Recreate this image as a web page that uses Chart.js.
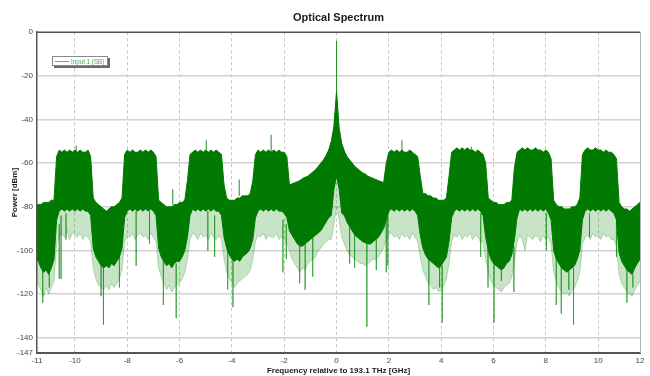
<!DOCTYPE html>
<html>
<head>
<meta charset="utf-8">
<title>Optical Spectrum</title>
<script src="https://cdn.jsdelivr.net/npm/chart.js@4.4.1/dist/chart.umd.min.js"></script>
<style>
  html, body { margin: 0; padding: 0; background: #fff; }
  #wrap { width: 650px; height: 376px; }
</style>
</head>
<body>
<div id="wrap"><canvas id="spectrumChart" width="650" height="376"></canvas></div>
<script>
const seriesName = 'Input 1 (SB)';

// frequency relative to 193.1 THz [GHz]
const freq = [
  -11.45,
  -11.4, -11.3, -11.2, -11.1, -11.0, -10.9, -10.8, -10.7, -10.6, -10.5,
  -10.4, -10.3, -10.2, -10.1, -10.0, -9.9, -9.8, -9.7, -9.6, -9.5,
  -9.4, -9.3, -9.2, -9.1, -9.0, -8.9, -8.8, -8.7, -8.6, -8.5,
  -8.4, -8.3, -8.2, -8.1, -8.0, -7.9, -7.8, -7.7, -7.6, -7.5,
  -7.4, -7.3, -7.2, -7.1, -7.0, -6.9, -6.8, -6.7, -6.6, -6.5,
  -6.4, -6.3, -6.2, -6.1, -6.0, -5.9, -5.8, -5.7, -5.6, -5.5,
  -5.4, -5.3, -5.2, -5.1, -5.0, -4.9, -4.8, -4.7, -4.6, -4.5,
  -4.4, -4.3, -4.2, -4.1, -4.0, -3.9, -3.8, -3.7, -3.6, -3.5,
  -3.4, -3.3, -3.2, -3.1, -3.0, -2.9, -2.8, -2.7, -2.6, -2.5,
  -2.4, -2.3, -2.2, -2.1, -2.0, -1.9, -1.8, -1.7, -1.6, -1.5,
  -1.4, -1.3, -1.2, -1.1, -1.0, -0.9, -0.8, -0.7, -0.6, -0.5,
  -0.4, -0.3, -0.2, -0.1, 0.0, 0.1, 0.2, 0.3, 0.4, 0.5,
  0.6, 0.7, 0.8, 0.9, 1.0, 1.1, 1.2, 1.3, 1.4, 1.5,
  1.6, 1.7, 1.8, 1.9, 2.0, 2.1, 2.2, 2.3, 2.4, 2.5,
  2.6, 2.7, 2.8, 2.9, 3.0, 3.1, 3.2, 3.3, 3.4, 3.5,
  3.6, 3.7, 3.8, 3.9, 4.0, 4.1, 4.2, 4.3, 4.4, 4.5,
  4.6, 4.7, 4.8, 4.9, 5.0, 5.1, 5.2, 5.3, 5.4, 5.5,
  5.6, 5.7, 5.8, 5.9, 6.0, 6.1, 6.2, 6.3, 6.4, 6.5,
  6.6, 6.7, 6.8, 6.9, 7.0, 7.1, 7.2, 7.3, 7.4, 7.5,
  7.6, 7.7, 7.8, 7.9, 8.0, 8.1, 8.2, 8.3, 8.4, 8.5,
  8.6, 8.7, 8.8, 8.9, 9.0, 9.1, 9.2, 9.3, 9.4, 9.5,
  9.6, 9.7, 9.8, 9.9, 10.0, 10.1, 10.2, 10.3, 10.4, 10.5,
  10.6, 10.7, 10.8, 10.9, 11.0, 11.1, 11.2, 11.3, 11.4, 11.5,
  11.6
];

// top of the trace [dBm]
const upper = [
  -79,
  -79, -79, -78, -78, -78, -77, -77, -57, -54, -55,
  -54, -55, -54, -55, -54, -55, -54, -55, -55, -54,
  -57, -76, -78, -79, -80, -81, -82, -81, -80, -80,
  -79, -78, -76, -56, -54, -55, -54, -55, -55, -54,
  -55, -54, -55, -54, -55, -57, -77, -78, -79, -80,
  -80, -80, -79, -79, -78, -78, -77, -68, -56, -55,
  -54, -55, -54, -55, -54, -55, -54, -55, -54, -55,
  -56, -70, -76, -77, -77, -77, -76, -76, -75, -75,
  -75, -74, -68, -56, -54, -55, -54, -55, -54, -55,
  -54, -55, -54, -55, -55, -57, -70, -69.5, -69, -68.5,
  -68, -67, -66.5, -66, -65, -64, -63, -61.5, -60, -58.5,
  -56.5, -54, -50, -43, -27, -44, -51, -54.5, -57, -58.5,
  -60, -61.5, -62.5, -63.5, -64.5, -65, -66, -66.5, -67, -67.5,
  -68, -68.5, -69, -60, -55, -54, -55, -54, -55, -54,
  -55, -55, -54, -55, -56, -57, -66, -74, -74, -75,
  -75, -76, -76, -77, -77, -77, -76, -66, -55, -54,
  -53, -54, -53, -54, -53, -54, -54, -55, -54, -55,
  -56, -60, -76, -77, -78, -78, -79, -79, -79, -78,
  -78, -77, -62, -55, -54, -53, -54, -53, -54, -54,
  -53, -54, -54, -55, -54, -55, -58, -77, -79, -80,
  -80, -81, -81, -81, -80, -80, -79, -76, -56, -54,
  -53, -54, -54, -53, -54, -54, -55, -54, -55, -55,
  -56, -58, -78, -80, -81, -81, -82, -81, -80, -79,
  -78
];

// lower edge of the dense part of the trace [dBm]
const core = [
  -104,
  -105, -108, -110, -109, -111, -108, -104, -86, -82, -81,
  -82, -81, -82, -81, -82, -81, -82, -81, -82, -82,
  -84, -99, -103, -105, -107, -108, -107, -108, -106, -107,
  -105, -103, -99, -85, -82, -81, -82, -81, -82, -81,
  -82, -81, -82, -81, -82, -84, -99, -103, -105, -107,
  -106, -108, -106, -105, -105, -103, -100, -94, -84, -81,
  -82, -81, -82, -81, -82, -81, -82, -81, -82, -82,
  -84, -94, -99, -102, -104, -105, -104, -105, -103, -102,
  -101, -99, -95, -85, -82, -81, -82, -81, -82, -81,
  -82, -81, -82, -82, -83, -85, -91, -93, -95, -97,
  -98, -98, -97, -96, -95, -94, -93, -92, -91, -89,
  -87, -85, -84, -72, -66, -72, -83, -84, -87, -89,
  -91, -93, -94, -95, -96, -96.5, -97, -97, -96, -95,
  -94, -92, -90, -86, -82, -81, -82, -81, -82, -81,
  -82, -81, -82, -81, -82, -84, -93, -99, -102, -104,
  -105, -106, -107, -108, -107, -105, -103, -96, -85, -82,
  -81, -82, -81, -82, -81, -82, -81, -82, -81, -82,
  -84, -94, -100, -104, -106, -107, -108, -109, -108, -106,
  -105, -102, -95, -85, -81, -82, -81, -82, -81, -82,
  -81, -82, -81, -82, -81, -83, -86, -100, -104, -106,
  -108, -109, -110, -109, -108, -107, -104, -100, -86, -82,
  -81, -82, -81, -82, -81, -82, -81, -82, -81, -82,
  -83, -86, -101, -105, -107, -109, -110, -111, -108, -106,
  -104
];

// lowest level of the sparse noise below the dense part [dBm]
const floor = [
  -115,
  -116, -118, -121, -117, -120, -117, -114, -97, -94, -92,
  -94, -91, -95, -92, -93, -94, -92, -95, -93, -94,
  -96, -108, -113, -116, -117, -118, -116, -118, -115, -117,
  -115, -113, -109, -96, -93, -94, -92, -95, -93, -92,
  -94, -93, -95, -92, -94, -96, -108, -112, -115, -118,
  -116, -119, -117, -116, -115, -113, -110, -104, -95, -92,
  -93, -95, -92, -94, -93, -95, -92, -94, -95, -93,
  -95, -104, -110, -113, -115, -117, -115, -114, -113, -112,
  -111, -109, -104, -96, -93, -94, -92, -95, -93, -94,
  -94, -92, -95, -94, -95, -97, -100, -104, -106, -108,
  -110, -108, -109, -106, -105, -104, -103, -100, -99, -97,
  -96, -95, -95, -88, -80, -86, -94, -97, -100, -102,
  -103, -104, -105, -106, -106, -107, -106, -105, -104, -104,
  -103, -101, -99, -95, -93, -92, -94, -93, -95, -92,
  -94, -93, -95, -92, -94, -96, -103, -109, -112, -115,
  -116, -118, -117, -119, -118, -116, -113, -106, -96, -93,
  -94, -92, -95, -93, -94, -92, -95, -93, -94, -96,
  -96, -104, -110, -114, -116, -117, -118, -119, -117, -116,
  -115, -112, -105, -96, -93, -95, -100, -93, -94, -95,
  -93, -94, -96, -93, -95, -94, -97, -110, -114, -117,
  -119, -120, -119, -121, -118, -117, -114, -110, -97, -94,
  -93, -95, -92, -94, -93, -95, -92, -94, -93, -95,
  -95, -98, -111, -115, -117, -119, -120, -121, -118, -116,
  -114
];

// isolated deep dips below the trace
const dipFreq = [-11.23, -10.98, -10.6, -10.53, -10.34, -9.0, -8.91, -8.3, -7.66, -7.15,
  -6.62, -6.13, -4.92, -4.66, -4.16, -3.96, -2.05, -1.92, -1.41, -1.2,
  -0.91, 0.5, 0.69, 1.16, 1.52, 1.9, 1.96, 3.53, 3.94, 4.04,
  5.51, 5.79, 6.02, 6.3, 6.78, 8.02, 8.4, 8.59, 8.88, 9.06,
  9.67, 10.7, 11.1, 11.33];
const dipTop = [-106, -108, -88, -84, -83, -106, -107, -100, -82, -82,
  -102, -106, -82, -84, -98, -104, -86, -88, -98, -97,
  -94, -89, -92, -96, -95, -86, -84, -101, -107, -107,
  -83, -94, -104, -108, -98, -83, -100, -107, -109, -108,
  -83, -86, -109, -111];
const dipBottom = [-124, -117, -113, -113, -95, -121, -134, -117, -107, -97,
  -125, -131, -100, -103, -118, -126, -110, -104, -115, -118,
  -112, -106, -108, -135, -109, -110, -107, -125, -117, -133,
  -103, -117, -133, -114, -119, -100, -125, -129, -118, -134,
  -94, -103, -124, -117];

// isolated peaks above the trace (carrier at 0 GHz)
const peakFreq = [-9.95, -6.26, -4.98, -3.72, -2.5, 0.0, 2.5, 5.15];
const peakBase = [-55, -79, -55, -75, -55, -27, -55, -54];
const peakTop = [-52, -72, -49.5, -67.5, -47, -4, -49.5, -52.5];

const xTicks = [-11.45, -10, -8, -6, -4, -2, 0, 2, 4, 6, 8, 10, 11.6];
const xTickLabels = ['-11', '-10', '-8', '-6', '-4', '-2', '0', '2', '4', '6', '8', '10', '12'];
const yTicks = [0, -20, -40, -60, -80, -100, -120, -140, -147];
const yTickLabels = ['0', '-20', '-40', '-60', '-80', '-100', '-120', '-140', '-147'];

const FONT = "'Liberation Sans Narrow', 'Arial Narrow', 'Liberation Sans', Arial, sans-serif";
const DARK = '#007a00';

function points(xs, ys) {
    return xs.map((x, i) => ({ x: x, y: ys[i] }));
}

// vertical strokes, separated by gaps
function sticks(xs, from, to) {
    const out = [];
    xs.forEach((x, i) => {
        out.push({ x: x, y: from[i] }, { x: x, y: to[i] }, { x: x, y: null });
    });
    return out;
}

const frame = {
    id: 'frame',
    afterDatasetsDraw(chart) {
        const { ctx, chartArea: a } = chart;
        ctx.save();
        ctx.strokeStyle = '#555';
        ctx.lineWidth = 1.5;
        ctx.beginPath();
        ctx.moveTo(a.left, a.top);
        ctx.lineTo(a.right, a.top);
        ctx.stroke();
        ctx.strokeStyle = '#b4b4b4';
        ctx.lineWidth = 1;
        ctx.beginPath();
        ctx.moveTo(a.right + 0.5, a.top);
        ctx.lineTo(a.right + 0.5, a.bottom);
        ctx.stroke();
        ctx.restore();
    }
};

const legendBox = {
    id: 'legendBox',
    afterDraw(chart) {
        const ctx = chart.ctx;
        const x = 52, y = 56, w = 56, h = 10;
        ctx.save();
        ctx.fillStyle = '#6a6a6a';
        ctx.fillRect(x + 2, y + 2, w, h);
        ctx.fillStyle = '#fff';
        ctx.fillRect(x, y, w, h);
        ctx.strokeStyle = '#8a8a8a';
        ctx.lineWidth = 1;
        ctx.strokeRect(x + 0.5, y + 0.5, w - 1, h - 1);
        ctx.strokeStyle = '#5cb85c';
        ctx.beginPath();
        ctx.moveTo(x + 3, y + 5.5);
        ctx.lineTo(x + 17, y + 5.5);
        ctx.stroke();
        ctx.fillStyle = '#4fa84f';
        ctx.font = '8px ' + FONT;
        ctx.textBaseline = 'middle';
        ctx.translate(x + 19, y + 5.5);
        ctx.scale(0.78, 1);
        ctx.fillText(seriesName, 0, 0);
        ctx.restore();
    }
};

const ctx = document.getElementById('spectrumChart').getContext('2d');
new Chart(ctx, {
    type: 'line',
    data: {
        datasets: [{
            label: seriesName,
            data: points(freq, upper),
            borderColor: DARK,
            borderWidth: 1,
            fill: false
        }, {
            label: 'core',
            data: points(freq, core),
            borderColor: DARK,
            borderWidth: 1,
            backgroundColor: DARK,
            fill: '-1'
        }, {
            label: 'floor',
            data: points(freq, floor),
            borderColor: 'rgba(0,130,0,0.25)',
            borderWidth: 1,
            backgroundColor: 'rgba(0,130,0,0.22)',
            fill: '-1'
        }, {
            label: 'dips',
            data: sticks(dipFreq, dipTop, dipBottom),
            borderColor: 'rgba(0,140,0,0.45)',
            borderWidth: 1,
            spanGaps: false,
            fill: false
        }, {
            label: 'peaks',
            data: sticks(peakFreq, peakBase, peakTop),
            borderColor: '#1d8f1d',
            borderWidth: 1,
            spanGaps: false,
            fill: false
        }]
    },
    options: {
        responsive: false,
        animation: false,
        devicePixelRatio: 1,
        elements: { point: { radius: 0 }, line: { tension: 0 } },
        layout: { padding: { left: 0, right: 10, top: 0, bottom: 0 } },
        plugins: {
            legend: { display: false },
            tooltip: { enabled: false },
            title: {
                display: true,
                text: 'Optical Spectrum',
                fullSize: false,
                color: '#1a1a1a',
                font: { family: FONT, size: 11, weight: 'bold' },
                padding: { top: 11, bottom: 8 }
            }
        },
        scales: {
            x: {
                type: 'linear',
                min: xTicks[0],
                max: xTicks[xTicks.length - 1],
                afterBuildTicks: (scale) => {
                    scale.ticks = xTicks.map(v => ({ value: v }));
                },
                afterFit: (scale) => { scale.height = 23; },
                ticks: {
                    autoSkip: false,
                    maxRotation: 0,
                    padding: 3,
                    color: '#444',
                    font: { family: FONT, size: 8 },
                    callback: (value, index) => xTickLabels[index]
                },
                grid: {
                    drawTicks: false,
                    lineWidth: 1,
                    color: (c) => (c.index === 0 || c.index === xTicks.length - 1) ? 'rgba(0,0,0,0)' : '#c2c2c2'
                },
                border: { color: '#555', width: 2, dash: [3, 3] },
                title: {
                    display: true,
                    text: 'Frequency relative to 193.1 THz [GHz]',
                    color: '#1a1a1a',
                    font: { family: FONT, size: 8, weight: 'bold' },
                    padding: { top: 0, bottom: 0 }
                }
            },
            y: {
                type: 'linear',
                min: yTicks[yTicks.length - 1],
                max: yTicks[0],
                afterBuildTicks: (scale) => {
                    scale.ticks = yTicks.map(v => ({ value: v }));
                },
                afterFit: (scale) => { scale.width = 37; },
                ticks: {
                    autoSkip: false,
                    padding: 4,
                    color: '#444',
                    font: { family: FONT, size: 8 },
                    callback: (value, index) => yTickLabels[index]
                },
                grid: {
                    drawTicks: false,
                    lineWidth: 1.5,
                    color: (c) => (c.index === 0 || c.index === yTicks.length - 1) ? 'rgba(0,0,0,0)' : '#d2d2d2'
                },
                border: { color: '#555', width: 1.5 },
                title: {
                    display: true,
                    text: 'Power [dBm]',
                    color: '#1a1a1a',
                    font: { family: FONT, size: 8, weight: 'bold' },
                    padding: { top: 10, bottom: 0 }
                }
            }
        }
    },
    plugins: [frame, legendBox]
});
</script>
</body>
</html>
